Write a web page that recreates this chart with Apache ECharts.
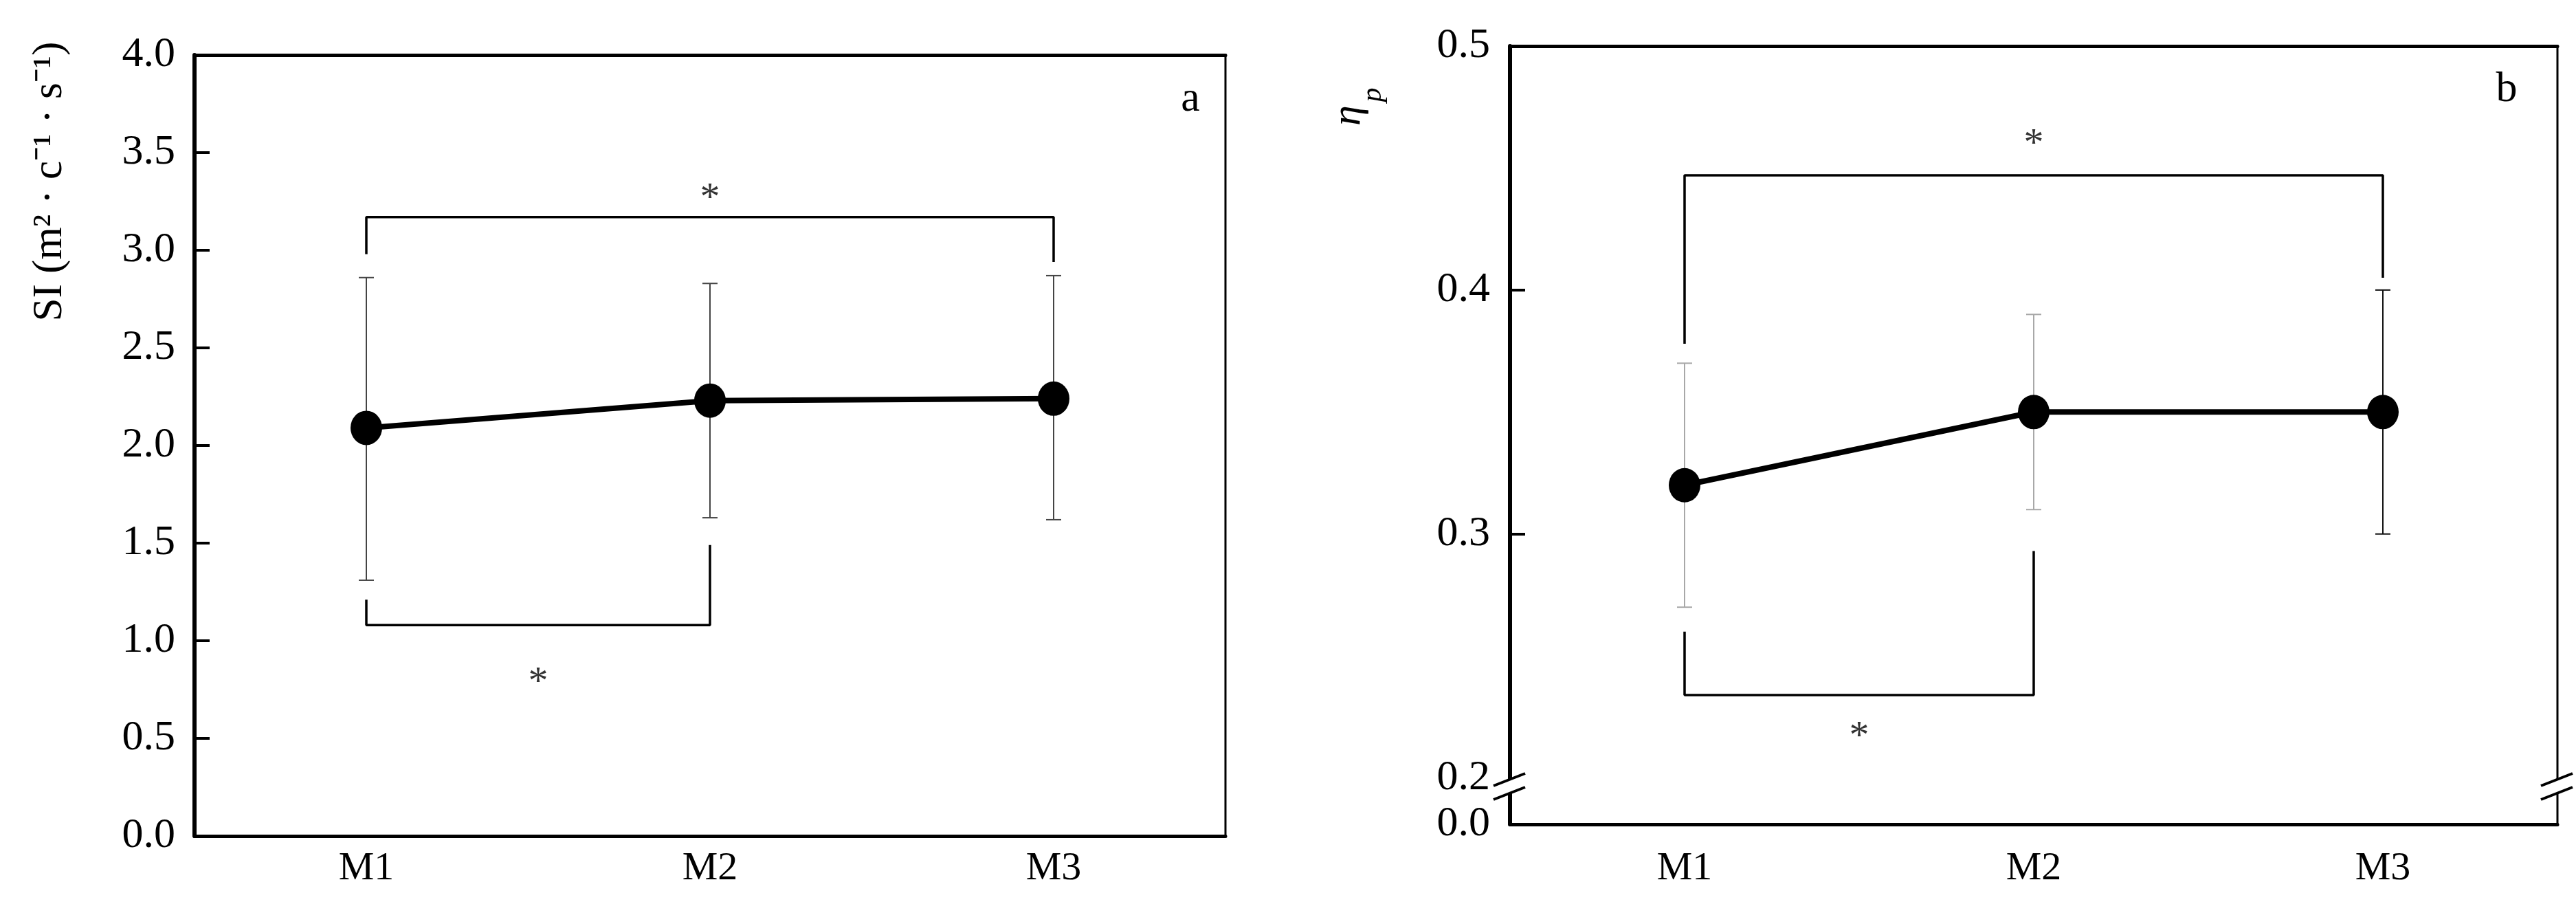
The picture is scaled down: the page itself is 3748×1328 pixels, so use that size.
<!DOCTYPE html>
<html>
<head>
<meta charset="utf-8">
<script src="https://cdn.jsdelivr.net/npm/echarts@6/dist/echarts.min.js"></script>
<style>
html, body { margin: 0; background: #fff; }
#demo { width: 3748px; height: 1328px; }
</style>
</head>
<body>
<div id="demo"></div>
<script>
var groups = ['M1', 'M2', 'M3'];

// panel a: SI (mean with error bar ends)
var siMean = [2.09, 2.23, 2.24];
var siLow = [1.31, 1.63, 1.62];
var siHigh = [2.86, 2.83, 2.87];

// panel b: eta_p, axis broken between 0.0 and 0.2
var etaMean = [0.32, 0.35, 0.35];
var etaLow = [0.27, 0.31, 0.30];
var etaHigh = [0.37, 0.39, 0.40];
var etaTicks = [0.181, 0.2, 0.3, 0.4, 0.5];   // first value stands for the "0.0" under the break
var etaTickLabels = ['0.0', '0.2', '0.3', '0.4', '0.5'];
var etaTickMarks = [0.3, 0.4];
var etaBreak = 0.1965;

// significance brackets, x in group index
var siBrackets = [
    [[0, 2.98], [0, 3.17], [2, 3.17], [2, 2.94]],
    [[0, 1.21], [0, 1.08], [1, 1.08], [1, 1.49]]
];
var siStars = [[1, 3.30], [0.5, 0.82]];
var etaBrackets = [
    [[0, 0.378], [0, 0.447], [2, 0.447], [2, 0.405]],
    [[0, 0.26], [0, 0.234], [1, 0.234], [1, 0.293]]
];
var etaStars = [[1, 0.4625], [0.5, 0.2196]];

var errColorsA = ['#444', '#444', '#444'];
var errColorsB = ['#a8a8a8', '#a8a8a8', '#111'];

var FONT = '"Liberation Serif", "Times New Roman", serif';

var myChart = echarts.init(document.getElementById('demo'));

function errBar(colors) {
    return function (params, api) {
        var i = api.value(0);
        var hi = api.coord([i, api.value(2)]);
        var lo = api.coord([i, api.value(1)]);
        var c = colors[params.dataIndex];
        var w = 11;
        var st = { stroke: c, lineWidth: 2 };
        return {
            type: 'group',
            children: [
                { type: 'line', shape: { x1: hi[0], y1: hi[1], x2: lo[0], y2: lo[1] }, style: st },
                { type: 'line', shape: { x1: hi[0] - w, y1: hi[1], x2: hi[0] + w, y2: hi[1] }, style: st },
                { type: 'line', shape: { x1: lo[0] - w, y1: lo[1], x2: lo[0] + w, y2: lo[1] }, style: st }
            ]
        };
    };
}

function errData(low, high) {
    return low.map(function (v, i) { return [i, v, high[i]]; });
}

function catAxis(grid, margin) {
    return {
        gridIndex: grid,
        type: 'category',
        data: groups,
        boundaryGap: true,
        axisLine: { onZero: false, lineStyle: { color: '#000', width: 5 } },
        axisTick: { inside: true, length: 20, alignWithLabel: true, lineStyle: { color: '#000', width: 3 } },
        axisLabel: { fontFamily: FONT, fontSize: 58, color: '#000', margin: margin }
    };
}

function topAxis(grid) {
    return {
        gridIndex: grid,
        type: 'value',
        min: -0.5,
        max: 2.5,
        position: 'top',
        axisLine: { show: true, onZero: false, lineStyle: { color: '#000', width: 5 } },
        axisTick: { show: false },
        axisLabel: { show: false },
        splitLine: { show: false }
    };
}

function bracketSeries(list, xIdx, yIdx) {
    return list.map(function (b) {
        return {
            type: 'line',
            xAxisIndex: xIdx,
            yAxisIndex: yIdx,
            data: b,
            symbol: 'none',
            silent: true,
            lineStyle: { color: '#000', width: 3.5 },
            z: 3
        };
    });
}

function starSeries(list, xIdx, yIdx) {
    return {
        type: 'scatter',
        xAxisIndex: xIdx,
        yAxisIndex: yIdx,
        data: list,
        symbolSize: 1,
        itemStyle: { color: 'transparent' },
        label: {
            show: true,
            position: 'inside',
            formatter: '*',
            fontFamily: FONT,
            fontSize: 58,
            color: '#000',
            offset: [0, 11]
        }
    };
}

option = {
    backgroundColor: '#fff',
    animation: false,
    grid: [
        { left: 283, top: 80, width: 1500, height: 1136, show: true, borderColor: '#000', borderWidth: 3 },
        { left: 2197, top: 67, width: 1524, height: 1132, show: true, borderColor: '#000', borderWidth: 3 }
    ],
    xAxis: [
        catAxis(0, 19),
        topAxis(0),
        catAxis(1, 36),
        topAxis(1)
    ],
    yAxis: [
        {
            gridIndex: 0,
            type: 'value',
            min: 0,
            max: 4,
            interval: 0.5,
            axisLine: { show: true, onZero: false, lineStyle: { color: '#000', width: 6 } },
            axisTick: { show: true, inside: true, length: 22, lineStyle: { color: '#000', width: 4 } },
            axisLabel: {
                fontFamily: FONT, fontSize: 62, color: '#000', margin: 28,
                formatter: function (v) { return v.toFixed(1); }
            },
            splitLine: { show: false }
        },
        {
            gridIndex: 1,
            type: 'value',
            min: etaTicks[0],
            max: 0.5,
            axisLine: { show: true, onZero: false, lineStyle: { color: '#000', width: 6 } },
            axisTick: { show: true, inside: true, length: 22, customValues: etaTickMarks, lineStyle: { color: '#000', width: 4 } },
            axisLabel: {
                fontFamily: FONT, fontSize: 62, color: '#000', margin: 29,
                customValues: etaTicks,
                formatter: function (v) {
                    var best = 0;
                    for (var k = 1; k < etaTicks.length; k++) {
                        if (Math.abs(etaTicks[k] - v) < Math.abs(etaTicks[best] - v)) best = k;
                    }
                    return etaTickLabels[best];
                }
            },
            splitLine: { show: false }
        }
    ],
    series: [
        {
            type: 'custom',
            xAxisIndex: 1,
            yAxisIndex: 0,
            renderItem: errBar(errColorsA),
            data: errData(siLow, siHigh),
            z: 2
        },
        {
            type: 'line',
            xAxisIndex: 0,
            yAxisIndex: 0,
            data: siMean,
            symbol: 'circle',
            symbolSize: [46, 50],
            itemStyle: { color: '#000' },
            lineStyle: { color: '#000', width: 8 },
            z: 5
        },
        starSeries(siStars, 1, 0),
        {
            type: 'custom',
            xAxisIndex: 3,
            yAxisIndex: 1,
            renderItem: errBar(errColorsB),
            data: errData(etaLow, etaHigh),
            z: 2
        },
        {
            type: 'line',
            xAxisIndex: 2,
            yAxisIndex: 1,
            data: etaMean,
            symbol: 'circle',
            symbolSize: [46, 50],
            itemStyle: { color: '#000' },
            lineStyle: { color: '#000', width: 8 },
            z: 5
        },
        starSeries(etaStars, 3, 1)
    ].concat(bracketSeries(siBrackets, 1, 0), bracketSeries(etaBrackets, 3, 1)),
    graphic: [
        {
            type: 'text', x: 73, y: 264, rotation: Math.PI / 2,
            style: { text: 'SI (m² · c⁻¹ · s⁻¹)', font: '61px ' + FONT, fill: '#000', align: 'center', verticalAlign: 'middle' }
        },
        {
            type: 'text', x: 1962, y: 168, rotation: Math.PI / 2,
            style: { text: 'η', font: 'italic 60px ' + FONT, fill: '#000', align: 'center', verticalAlign: 'middle' }
        },
        {
            type: 'text', x: 1998, y: 138, rotation: Math.PI / 2,
            style: { text: 'p', font: 'italic 42px ' + FONT, fill: '#000', align: 'center', verticalAlign: 'middle' }
        },
        {
            type: 'text', x: 1732, y: 145,
            style: { text: 'a', font: '62px ' + FONT, fill: '#000', align: 'center', verticalAlign: 'middle' }
        },
        {
            type: 'text', x: 3647, y: 131,
            style: { text: 'b', font: '62px ' + FONT, fill: '#000', align: 'center', verticalAlign: 'middle' }
        }
    ]
};

myChart.setOption(option);

// axis break marks on both sides of panel b
var yB = myChart.convertToPixel({ yAxisIndex: 1 }, etaBreak);
var sides = [
    myChart.convertToPixel({ xAxisIndex: 3 }, -0.5),
    myChart.convertToPixel({ xAxisIndex: 3 }, 2.5)
];
var marks = [];
sides.forEach(function (x) {
    marks.push({ type: 'rect', z: 100, shape: { x: x - 8, y: yB - 10, width: 16, height: 20 }, style: { fill: '#fff' } });
    marks.push({ type: 'line', z: 101, shape: { x1: x - 24, y1: yB - 1, x2: x + 22, y2: yB - 19 }, style: { stroke: '#000', lineWidth: 4 } });
    marks.push({ type: 'line', z: 101, shape: { x1: x - 24, y1: yB + 19, x2: x + 22, y2: yB + 1 }, style: { stroke: '#000', lineWidth: 4 } });
});
myChart.setOption({ graphic: option.graphic.concat(marks) });
</script>
</body>
</html>
